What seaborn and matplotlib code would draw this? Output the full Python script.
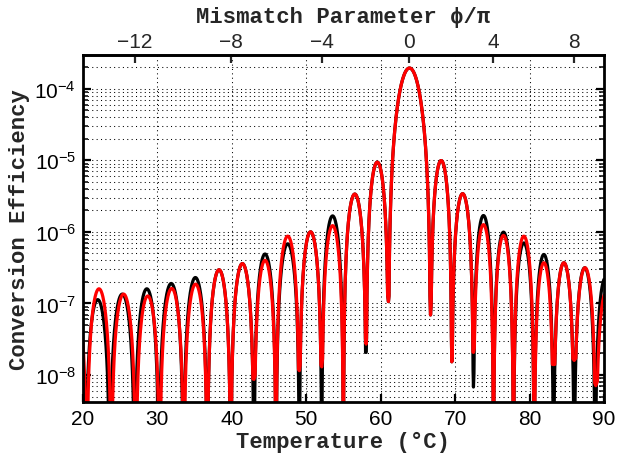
import numpy as np
import pandas as pd
import matplotlib
matplotlib.use("Agg")
import matplotlib.pyplot as plt
import seaborn as sns
from matplotlib.ticker import LogLocator, FixedLocator, NullFormatter, FixedFormatter

# ---------------- data ----------------
# temperatures (deg C) of the zeros between lobes (black = reference curve)
zeros_black = [17.15, 20.35, 23.6, 26.95, 30.2, 33.5, 36.7, 39.85, 42.98, 45.94,
               49.07, 52.08, 54.99, 58.04, 61.04, 66.69, 69.55, 72.46, 75.15,
               77.84, 80.62, 83.22, 86.0, 88.82, 91.6]
zeros_red = [17.35, 20.5, 23.8, 27.1, 30.3, 33.55, 36.7, 39.85, 42.98, 45.94,
             49.07, 52.08, 54.99, 58.04, 61.04, 66.69, 69.55, 72.46, 75.15,
             77.84, 80.62, 83.22, 86.0, 88.9, 91.8]
# peak conversion efficiency of each lobe
peaks_black = [1.0e-7, 1.13e-7, 1.35e-7, 1.6e-7, 1.9e-7, 2.3e-7, 2.95e-7, 3.6e-7,
               4.9e-7, 6.8e-7, 1.0e-6, 1.67e-6, 3.37e-6, 9.4e-6, 1.94e-4, 9.9e-6,
               3.41e-6, 1.69e-6, 9.9e-7, 7.0e-7, 4.83e-7, 3.7e-7, 3.15e-7, 2.3e-7]
peaks_red = [1.2e-7, 1.6e-7, 1.35e-7, 1.27e-7, 1.62e-7, 1.86e-7, 2.95e-7, 3.6e-7,
             4.0e-7, 8.7e-7, 1.0e-6, 1.22e-6, 3.37e-6, 9.4e-6, 1.94e-4, 9.9e-6,
             3.41e-6, 1.26e-6, 8.9e-7, 8.7e-7, 3.7e-7, 3.7e-7, 3.15e-7, 1.5e-7]
# lowest drawn value at each zero (1e-10 = goes below the axis)
dips_black = [1e-10] * 13 + [2.07e-8, 1.06e-7, 6.9e-8, 1.53e-8, 6.8e-9] + [1e-10] * 7
dips_red = ([1e-10] * 8 + [8.7e-9, 1e-10, 1.15e-8, 1.3e-8, 1e-10, 2.7e-8, 1.06e-7,
            6.9e-8, 1.53e-8, 2.07e-8, 1e-10, 1e-10, 1e-10, 1.4e-8, 1.6e-8, 7.1e-9, 1e-10])
main_lobe = 14
main_peak_T = 63.86

# top axis: mismatch parameter phi/pi (zeros sit at integer values)
phi_ticks = [-12, -8, -4, 0, 4, 8]
x_ticks = [20, 30, 40, 50, 60, 70, 80, 90]


def build(zeros, peaks, dips):
    T, V = [], []
    for i in range(len(zeros) - 1):
        z0, z1 = zeros[i], zeros[i + 1]
        u = np.linspace(0, 1, 161)[1:-1]
        if i == main_lobe:
            shape = np.sinc(2 * u - 1) ** 2
        else:
            shape = np.sin(np.pi * u) ** 2
        v = peaks[i] * shape
        lim = np.where(u < 0.5, dips[i], dips[i + 1])
        keep = v >= lim
        T.append(z0)
        V.append(dips[i])
        T.extend(list(z0 + u[keep] * (z1 - z0)))
        V.extend(list(v[keep]))
    T.append(zeros[-1])
    V.append(dips[-1])
    return T, V


tb, vb = build(zeros_black, peaks_black, dips_black)
tr, vr = build(zeros_red, peaks_red, dips_red)
df = pd.DataFrame({
    "T": tb + tr,
    "eff": vb + vr,
    "curve": ["black"] * len(tb) + ["red"] * len(tr),
})

# ---------------- figure ----------------
sns.set_style("white")
plt.rcParams["font.family"] = ["Liberation Sans", "DejaVu Sans"]
plt.rcParams["mathtext.fontset"] = "custom"
plt.rcParams["mathtext.rm"] = "Liberation Sans"
plt.rcParams["mathtext.it"] = "Liberation Sans:italic"
plt.rcParams["mathtext.bf"] = "Liberation Sans:bold"

fig = plt.figure(figsize=(6.19, 4.60), dpi=100)
ax = fig.add_axes([83 / 619, 57 / 460, (604 - 83) / 619, (403 - 56) / 460])

sns.lineplot(data=df, x="T", y="eff", hue="curve",
             palette={"black": "#000000", "red": "#ff0000"},
             hue_order=["black", "red"], sort=False, estimator=None,
             linewidth=2.3, legend=False, ax=ax)

ax.set_yscale("log")
ax.set_xlim(20, 90)
ax.set_ylim(4.2e-9, 2.95e-4)

ax.xaxis.set_major_locator(FixedLocator(x_ticks))
ax.yaxis.set_major_locator(LogLocator(base=10, numticks=20))
ax.yaxis.set_minor_locator(LogLocator(base=10, subs=np.arange(2, 10), numticks=100))
ax.yaxis.set_minor_formatter(NullFormatter())

grid_style = dict(color="black", linewidth=0.75, linestyle=(0, (1, 3.2)))
ax.grid(True, which="major", axis="x", **grid_style)
ax.grid(True, which="both", axis="y", **grid_style)

ax.tick_params(which="both", direction="in", top=False, right=True,
               bottom=True, left=True, labelsize=15, colors="black")
ax.tick_params(which="major", length=6, width=1.6, pad=5)
ax.tick_params(which="minor", length=3.5, width=1.1)
for s in ax.spines.values():
    s.set_linewidth(2.0)
    s.set_color("black")

label_font = dict(family="Liberation Mono", weight="bold", size=16)
ax.set_xlabel("Temperature (°C)", labelpad=2, **label_font)
ax.set_ylabel("Conversion Efficiency", labelpad=3, **label_font)

# top axis mapping from the zero positions (integer phi/pi) of the black curve
map_T = np.insert(np.array(zeros_black), main_lobe + 1, main_peak_T)
map_p = np.arange(len(map_T)) - (main_lobe + 1)


def fwd(t):
    return np.interp(t, map_T, map_p)


def inv(p):
    return np.interp(p, map_p, map_T)


sec = ax.secondary_xaxis("top", functions=(fwd, inv))
sec.xaxis.set_major_locator(FixedLocator(phi_ticks))
sec.xaxis.set_major_formatter(FixedFormatter([f"\u2212{abs(p)}" if p < 0 else str(p) for p in phi_ticks]))
sec.tick_params(which="major", direction="in", length=6, width=1.6, labelsize=15, pad=3)
sec.tick_params(which="minor", length=0)
sec.spines["top"].set_linewidth(2.0)
sec.set_xlabel("Mismatch Parameter \u03d5/\u03c0", labelpad=7, **label_font)

fig.savefig("out.png", dpi=100)
